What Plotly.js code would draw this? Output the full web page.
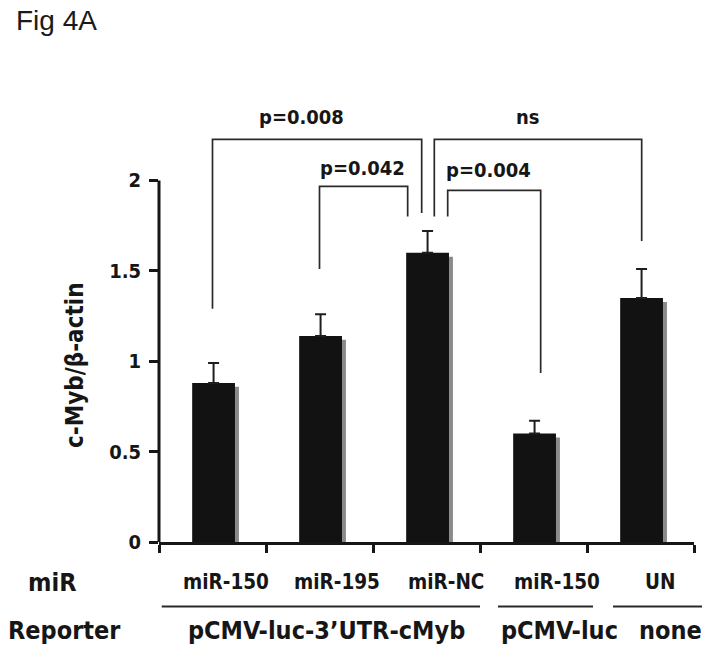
<!DOCTYPE html>
<html>
<head>
<meta charset="utf-8">
<script src="https://cdn.plot.ly/plotly-3.0.1.min.js"></script>
<style>html,body{margin:0;padding:0;background:#fff;}#chart{width:722px;height:655px;}</style>
</head>
<body>
<div id="chart"></div>
<script>
// ---- data ----
var groups = [0, 1, 2, 3, 4];
var miRLabels = ["miR-150", "miR-195", "miR-NC", "miR-150", "UN"];
var reporterLabels = ["pCMV-luc-3\u2019UTR-cMyb", "pCMV-luc", "none"];
var values = [0.88, 1.14, 1.60, 0.60, 1.35];
var errors = [0.11, 0.12, 0.12, 0.07, 0.16];
var yTickVals = [0, 0.5, 1, 1.5, 2];
var yTickText = ["0", "0.5", "1", "1.5", "2"];
// significance brackets: [xLeft, yLeftBottom, xRight, yRightBottom, yTop]
var bracketLabels = ["p=0.008", "p=0.042", "p=0.004", "ns"];
var brackets = [
  [0.0, 1.29, 1.955, 1.82, 2.227],
  [1.0, 1.51, 1.824, 1.80, 1.967],
  [2.198, 1.80, 3.067, 0.935, 1.945],
  [2.073, 1.80, 4.011, 1.665, 2.227]
];
var bracketLabelPos = [[0.83, 2.35], [1.40, 2.068], [2.575, 2.06], [2.95, 2.35]];

// ---- layout helpers ----
var FONT = "DejaVu Sans Condensed, DejaVu Sans, Verdana, sans-serif";
var INK = "#161616";
var W = 722, H = 655, ML = 159, MR = 28, MT = 90, MB = 113;
var PW = W - ML - MR, PH = H - MT - MB;
function px2paperX(px) { return (px - ML) / PW; }
function px2paperY(py) { return (H - MB - py) / PH; }

var shadow = {
  type: "bar", x: groups, y: values.map(function (v) { return v - 0.022; }),
  width: 0.4, offset: -0.153,
  marker: { color: "#8a8a8a", line: { width: 0 } },
  hoverinfo: "skip", showlegend: false
};
var bars = {
  type: "bar", x: groups, y: values,
  width: 0.4, offset: -0.19,
  marker: { color: "#121212", line: { width: 0 } },
  error_y: { type: "data", array: errors, arrayminus: errors.map(function () { return 0; }),
             symmetric: false, color: "#1e1e1e", thickness: 2, width: 5.5 },
  showlegend: false
};

var shapes = [];
var annotations = [];

// y axis line from 0 to 2
shapes.push({ type: "line", xref: "paper", yref: "y", x0: 0, x1: 0, y0: 0, y1: 2,
  line: { color: INK, width: 3 } });

brackets.forEach(function (b) {
  shapes.push({ type: "path", xref: "x", yref: "y",
    path: "M " + b[0] + "," + b[1] + " L " + b[0] + "," + b[4] + " L " + b[2] + "," + b[4] + " L " + b[2] + "," + b[3],
    line: { color: "#2a2a2a", width: 1.7 } });
});
bracketLabels.forEach(function (t, i) {
  annotations.push({ text: "<b>" + t + "</b>", x: bracketLabelPos[i][0], y: bracketLabelPos[i][1],
    xref: "x", yref: "y", showarrow: false, xanchor: "center", yanchor: "middle",
    font: { family: FONT, size: 20, color: INK } });
});

// bottom rows
var miRpx = [226, 337, 446, 557, 660];
miRLabels.forEach(function (t, i) {
  annotations.push({ text: "<b>" + t + "</b>", x: px2paperX(miRpx[i]), y: px2paperY(582),
    xref: "paper", yref: "paper", showarrow: false, xanchor: "center", yanchor: "middle",
    font: { family: FONT, size: 20.5, color: INK } });
});
var repPx = [326, 559, 670];
reporterLabels.forEach(function (t, i) {
  annotations.push({ text: "<b>" + t + "</b>", x: px2paperX(repPx[i]), y: px2paperY(630),
    xref: "paper", yref: "paper", showarrow: false, xanchor: "center", yanchor: "middle",
    font: { family: FONT, size: 25, color: INK } });
});
annotations.push({ text: "<b>miR</b>", x: px2paperX(52), y: px2paperY(582), xref: "paper", yref: "paper",
  showarrow: false, xanchor: "center", yanchor: "middle", font: { family: FONT, size: 25, color: INK } });
annotations.push({ text: "<b>Reporter</b>", x: px2paperX(64), y: px2paperY(630), xref: "paper", yref: "paper",
  showarrow: false, xanchor: "center", yanchor: "middle", font: { family: FONT, size: 25, color: INK } });
var repLines = [[161.7, 480], [498, 593], [613, 702]];
repLines.forEach(function (l) {
  shapes.push({ type: "line", xref: "paper", yref: "paper",
    x0: px2paperX(l[0]), x1: px2paperX(l[1]), y0: px2paperY(606.5), y1: px2paperY(606.5),
    line: { color: "#2a2a2a", width: 2 } });
});

// y title
annotations.push({ text: "<b>c-Myb/\u03b2-actin</b>", x: px2paperX(75), y: px2paperY(365),
  xref: "paper", yref: "paper", showarrow: false, textangle: -90, xanchor: "center", yanchor: "middle",
  font: { family: FONT, size: 24, color: INK } });
// figure label
annotations.push({ text: "Fig 4A", x: px2paperX(14), y: px2paperY(20), xref: "paper", yref: "paper",
  showarrow: false, xanchor: "left", yanchor: "middle",
  font: { family: "Liberation Sans, Arial, sans-serif", size: 28, color: "#1a1a1a" } });

var layout = {
  width: W, height: H,
  margin: { l: ML, r: MR, t: MT, b: MB, pad: 0 },
  paper_bgcolor: "#fff", plot_bgcolor: "#fff",
  barmode: "overlay",
  xaxis: { range: [-0.5, 4.5], showgrid: false, zeroline: false, showline: true,
    linecolor: INK, linewidth: 3, ticks: "outside", ticklen: 8, tickwidth: 3, tickcolor: INK,
    tickmode: "array", tickvals: [-0.5, 0.5, 1.5, 2.5, 3.5, 4.5], showticklabels: false, fixedrange: true },
  yaxis: { range: [0, 2.5], showgrid: false, zeroline: false, showline: false,
    ticks: "outside", ticklen: 9, tickwidth: 3, tickcolor: INK, ticklabelstandoff: 4,
    tickmode: "array", tickvals: yTickVals, ticktext: yTickText.map(function (t) { return "<b>" + t + "</b>"; }),
    tickfont: { family: FONT, size: 20, color: INK }, fixedrange: true },
  shapes: shapes,
  annotations: annotations,
  showlegend: false
};

Plotly.newPlot("chart", [shadow, bars], layout, { displayModeBar: false, staticPlot: true });
</script>
</body>
</html>
